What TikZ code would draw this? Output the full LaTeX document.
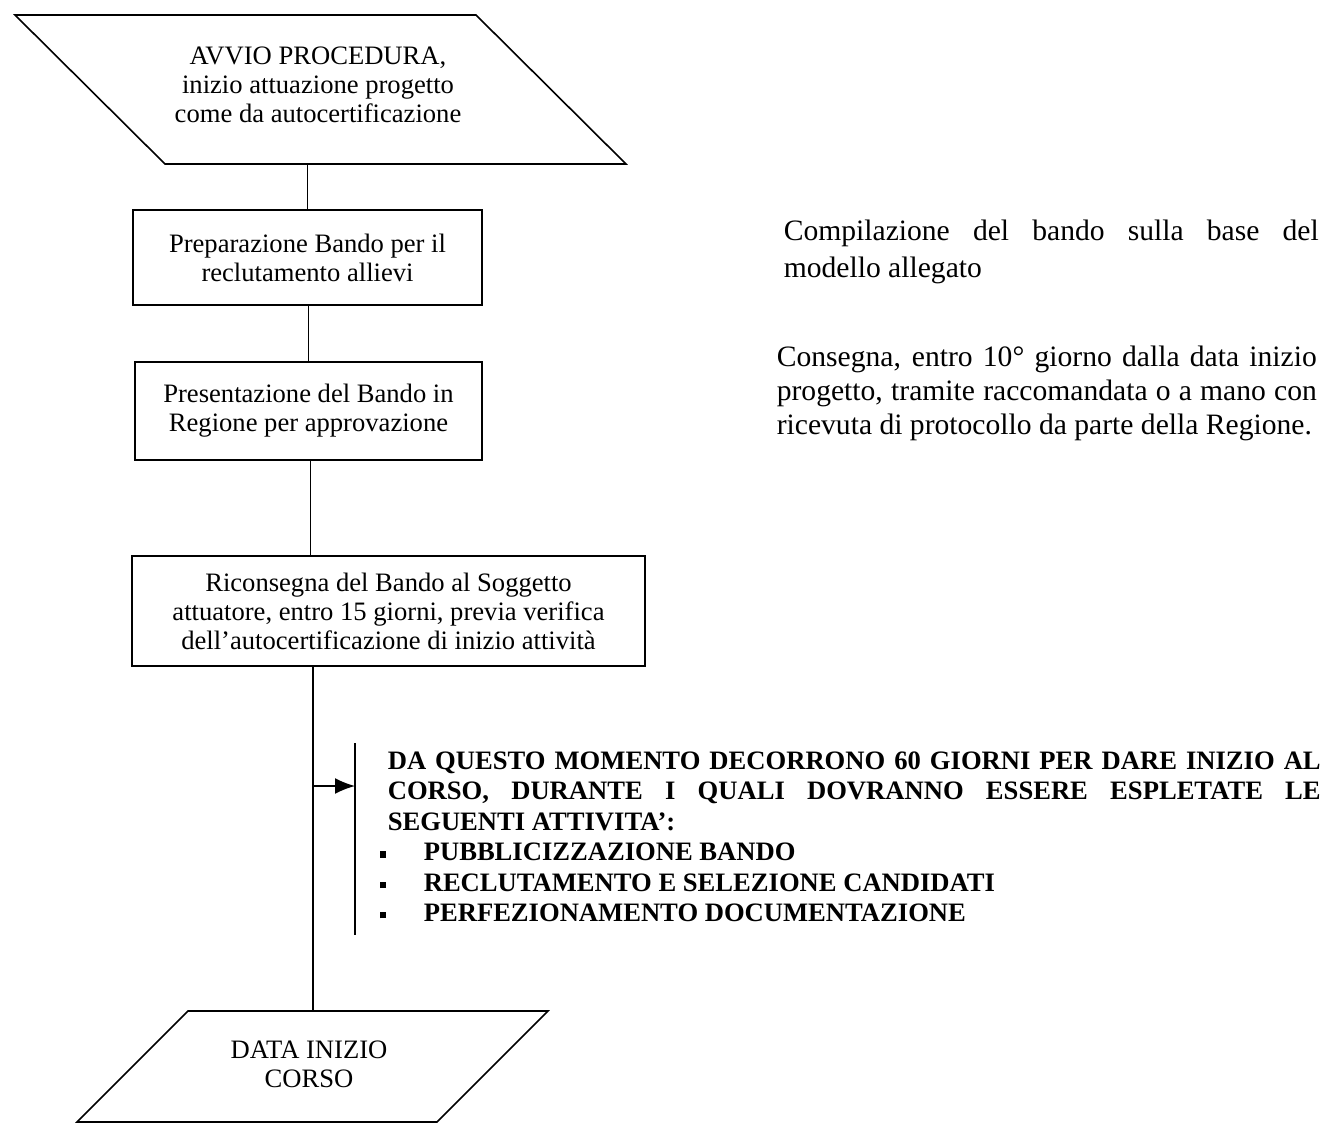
\documentclass[tikz,border=0pt]{standalone}
\usepackage{fontspec}
\setmainfont{Liberation Serif}
\usetikzlibrary{arrows.meta,positioning,calc}

\begin{document}
\begin{tikzpicture}[
    x=0.5pt, y=-0.5pt,
    line width=0.8pt,
    fase/.style={rectangle, draw, align=center, font=\fontsize{13.3}{14.5}\selectfont, inner sep=0pt},
    testo/.style={align=center, font=\fontsize{13.3}{14.4}\selectfont, inner sep=0pt},
    nota/.style={anchor=north west, inner sep=0pt, align=justify},
    >={Latex[length=10pt,width=8pt]}
]
    \useasboundingbox (0,0) rectangle (1330,1124);

    % flusso principale
    \node[testo] (avvio) at (318,85)
        {AVVIO PROCEDURA,\\inizio attuazione progetto\\come da autocertificazione};
    \draw (15,15) -- (476,15) -- (626,164) -- (165,164) -- cycle;
    \coordinate (avvio-base) at (305,164);

    \node[fase, minimum width=174.5pt, minimum height=47.5pt] (prep) at (307.5,257.5)
        {Preparazione Bando per il\\reclutamento allievi};
    \node[fase, minimum width=173.5pt, minimum height=49pt] (pres) at (308.5,411)
        {Presentazione del Bando in\\Regione per approvazione};
    \node[fase, minimum width=256.5pt, minimum height=55pt] (ricons) at (388.5,611)
        {Riconsegna del Bando al Soggetto\\attuatore, entro 15 giorni, previa verifica\\dell'autocertificazione di inizio attività};

    \node[testo] (inizio) at (309,1064) {DATA INIZIO\\CORSO};
    \draw (188,1011) -- (548,1011) -- (437,1122) -- (77,1122) -- cycle;
    \coordinate (inizio-cima) at (313,1011);

    \draw (prep.north) -- (prep.north |- avvio-base);
    \draw (pres.north) -- (pres.north |- prep.south);
    \draw ([xshift=1pt]pres.south) -- ([xshift=1pt]pres.south |- ricons.north);
    \draw (inizio-cima |- ricons.south) -- (inizio-cima);

    % note a destra
    \node[nota, text width=267.5pt, font=\fontsize{14.8}{18.5}\selectfont] (compil) at (783,219)
        {Compilazione del bando sulla base del\linebreak modello allegato};
    \node[nota, text width=270pt, font=\fontsize{14.8}{17}\selectfont] (consegna) at (776,345)
        {Consegna, entro 10° giorno dalla data inizio\linebreak progetto, tramite raccomandata o a mano con\linebreak ricevuta di protocollo da parte della Regione.};

    % scadenza dei 60 giorni
    \node[nota, text width=466.5pt, font=\fontsize{13.3}{15.2}\selectfont\bfseries] (scad) at (387,751)
        {DA QUESTO MOMENTO DECORRONO 60 GIORNI PER DARE INIZIO AL\linebreak
         CORSO, DURANTE I QUALI DOVRANNO ESSERE ESPLETATE LE\linebreak
         SEGUENTI ATTIVITA':\\
         \hspace*{-4pt}\makebox[22pt][l]{\rule[0.25ex]{3.2pt}{3.2pt}}PUBBLICIZZAZIONE BANDO\\
         \hspace*{-4pt}\makebox[22pt][l]{\rule[0.25ex]{3.2pt}{3.2pt}}RECLUTAMENTO E SELEZIONE CANDIDATI\\
         \hspace*{-4pt}\makebox[22pt][l]{\rule[0.25ex]{3.2pt}{3.2pt}}PERFEZIONAMENTO DOCUMENTAZIONE};
    \coordinate (barsu) at (355,743);
    \coordinate (bargiu) at (355,935);
    \draw (barsu) -- (bargiu);
    \coordinate (barra) at (355,786);
    \draw[->] (inizio-cima |- barra) -- (barra);
\end{tikzpicture}
\end{document}
